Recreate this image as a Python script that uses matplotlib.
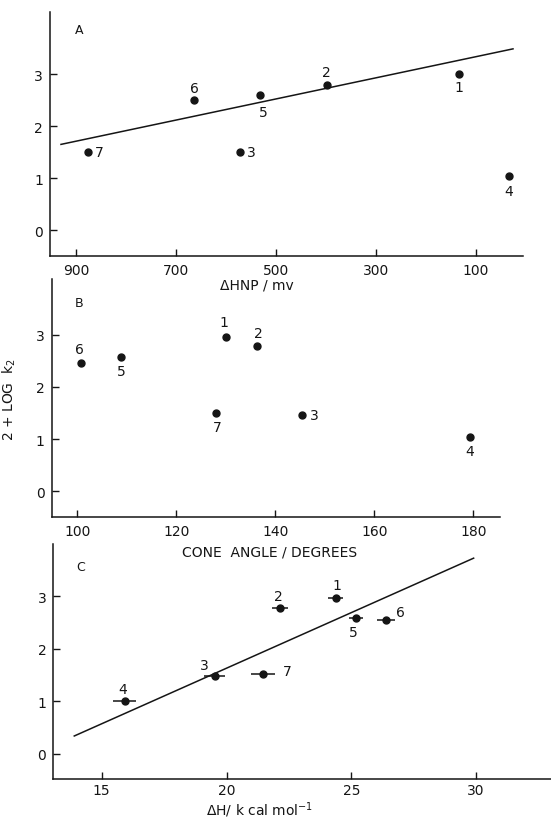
import matplotlib

matplotlib.use("Agg")
import matplotlib.pyplot as plt

# compound numbers shared by the three panels
labels = ["1", "2", "3", "4", "5", "6", "7"]
log_k2 = [3.0, 2.8, 1.5, 1.05, 2.6, 2.5, 1.5]

# panel A
dhnp = [133, 398, 571, 33, 531, 663, 875]
fit_a_x = [930, 25]
fit_a_y = [1.65, 3.49]

# panel B
cone_angle = [130.1, 136.2, 145.3, 179.3, 108.9, 100.8, 128.0]
log_k2_b = [2.96, 2.78, 1.47, 1.04, 2.57, 2.45, 1.5]

# panel C
dh = [24.38, 22.14, 19.52, 15.92, 25.17, 26.39, 21.45]
dh_err = [0.30, 0.32, 0.42, 0.45, 0.28, 0.38, 0.48]
log_k2_c = [2.98, 2.78, 1.49, 1.01, 2.59, 2.56, 1.53]
fit_c_x = [13.9, 29.9]
fit_c_y = [0.34, 3.73]

INK = "#151515"
W, H = 551, 820


def fig_box(left, top, right, bottom):
    return [left / W, 1 - bottom / H, (right - left) / W, (bottom - top) / H]


def style(ax):
    for side in ("top", "right"):
        ax.spines[side].set_visible(False)
    for side in ("left", "bottom"):
        ax.spines[side].set_color(INK)
        ax.spines[side].set_linewidth(1.1)
    ax.tick_params(direction="in", length=5, width=1, colors=INK,
                   labelsize=10, pad=5)
    ax.set_yticks([0, 1, 2, 3])


def label_points(ax, xs, ys, offsets):
    for lab, x, y, off in zip(labels, xs, ys, offsets):
        ax.annotate(lab, (x, y), xytext=off, textcoords="offset pixels",
                    ha="center", va="center", fontsize=10, color=INK)


fig = plt.figure(figsize=(W / 100, H / 100), dpi=100)
fig.patch.set_facecolor("white")

# A
ax_a = fig.add_axes(fig_box(50, 13, 523, 257))
style(ax_a)
ax_a.plot(fit_a_x, fit_a_y, color=INK, linewidth=1.1)
ax_a.plot(dhnp, log_k2, "o", color=INK, markersize=5)
ax_a.set_xlim(952, 5)
ax_a.set_ylim(-0.5, 4.2)
ax_a.set_xticks([900, 700, 500, 300, 100])
label_points(ax_a, dhnp, log_k2,
             [(0, -13), (0, 13), (11, 0), (0, -15), (3, -17), (0, 12), (11, 0)])
ax_a.text(0.062, 0.93, "A", transform=ax_a.transAxes, fontsize=9,
          color=INK, ha="center", va="center")

# B
ax_b = fig.add_axes(fig_box(51.7, 280, 500, 518.3))
style(ax_b)
ax_b.plot(cone_angle, log_k2_b, "o", color=INK, markersize=5)
ax_b.set_xlim(94.8, 185.4)
ax_b.set_ylim(-0.5, 4.07)
ax_b.set_xticks([100, 120, 140, 160, 180])
label_points(ax_b, cone_angle, log_k2_b,
             [(-2, 15), (2, 13), (13, 0), (0, -14), (0, -14), (-2, 14), (1, -14)])
ax_b.text(0.061, 0.903, "B", transform=ax_b.transAxes, fontsize=9,
          color=INK, ha="center", va="center")
ax_b.set_ylabel("2 + LOG  k$_2$", fontsize=10, color=INK)
ax_b.yaxis.set_label_coords(-0.075, 0.5)

# C
ax_c = fig.add_axes(fig_box(53.3, 545, 551, 780))
style(ax_c)
ax_c.tick_params(axis="x", pad=3)
ax_c.plot(fit_c_x, fit_c_y, color=INK, linewidth=1.1)
ax_c.errorbar(dh, log_k2_c, xerr=dh_err, fmt="o", color=INK, markersize=5,
              elinewidth=1.1, capsize=0)
ax_c.set_xlim(13.06, 33.0)
ax_c.set_ylim(-0.48, 4.0)
ax_c.set_xticks([15, 20, 25, 30])
label_points(ax_c, dh, log_k2_c,
             [(1, 13), (-2, 12), (-10, 11), (-2, 12), (-2, -14), (14, 8), (25, 3)])
ax_c.text(0.054, 0.904, "C", transform=ax_c.transAxes, fontsize=9,
          color=INK, ha="center", va="center")

# axis titles placed where the original prints them
fig.text(257 / W, 1 - 286 / H, "ΔHNP / mv", ha="center", va="center",
         fontsize=10, color=INK)
fig.text(270 / W, 1 - 552 / H, "CONE  ANGLE / DEGREES", ha="center",
         va="center", fontsize=10, color=INK)
fig.text(260 / W, 1 - 816 / H, "ΔH/ k cal mol$^{-1}$", ha="center",
         va="baseline", fontsize=10, color=INK)

fig.savefig("out.png", dpi=100, facecolor="white")
